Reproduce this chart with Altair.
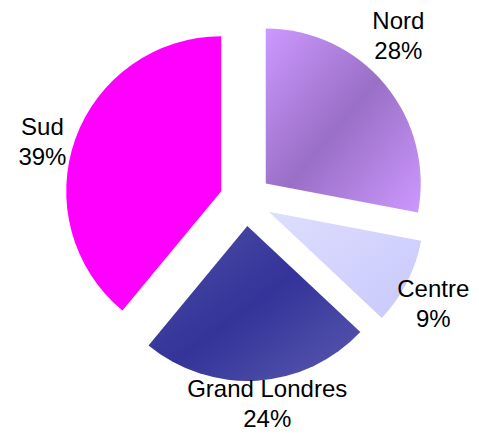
import altair as alt
import pandas as pd

# ---- data ----
regions = ["Nord", "Centre", "Grand Londres", "Sud"]
shares = [28, 9, 24, 39]

df = pd.DataFrame({"region": regions, "share": shares, "order": list(range(len(regions)))})

# ---- layout ----
CX, CY = 237.7, 192    # pie centre (px, inside the view)
RADIUS = 155
EXPLODE = 26
LABEL_R = 215
NUDGE = {"Nord": (-13, -41), "Sud": (-1, 1), "Centre": (-4, -8), "Grand Londres": (8, -25)}

nx_expr = " : ".join([f"datum.region == '{k}' ? {v[0]}" for k, v in NUDGE.items()]) + " : 0"
ny_expr = " : ".join([f"datum.region == '{k}' ? {v[1]}" for k, v in NUDGE.items()]) + " : 0"

base = (
    alt.Chart(df)
    .transform_window(cum="sum(share)", frame=[None, 0], sort=[alt.SortField("order")])
    .transform_joinaggregate(total="sum(share)")
    .transform_calculate(
        t0="2*PI*(datum.cum - datum.share)/datum.total",
        t1="2*PI*datum.cum/datum.total",
    )
    .transform_calculate(mid="(datum.t0 + datum.t1)/2")
    .transform_calculate(
        cx=f"{CX} + {EXPLODE}*sin(datum.mid)",
        cy=f"{CY} - {EXPLODE}*cos(datum.mid)",
        lx=f"{CX} + {LABEL_R}*sin(datum.mid) + ({nx_expr})",
        ly=f"{CY} - {LABEL_R}*cos(datum.mid) + ({ny_expr})",
        label="datum.region + '\\n' + datum.share + '%'",
    )
)

def grad(stops, x1=0, y1=0, x2=1, y2=1):
    return alt.LinearGradient(
        gradient="linear",
        stops=[alt.GradientStop(color=c, offset=o) for o, c in stops],
        x1=x1, y1=y1, x2=x2, y2=y2,
    )

fills = {
    "Nord": grad([(0, "#cc99ff"), (0.5, "#9a6fc6"), (1, "#cc99ff")]),
    "Centre": grad([(0, "#dedeff"), (1, "#c8c8fc")]),
    "Grand Londres": grad([(0, "#5050a8"), (0.5, "#333399"), (1, "#5a5ab0")]),
    "Sud": "#ff00ff",
}

enc = dict(
    theta=alt.Theta("t0:Q", scale=None, stack=None),
    theta2=alt.Theta2("t1:Q"),
    x=alt.X("cx:Q", scale=None),
    y=alt.Y("cy:Q", scale=None),
)

layers = []
for r in regions:
    layers.append(
        base.transform_filter(alt.datum.region == r)
        .mark_arc(radius=RADIUS, fill=fills[r], stroke=None)
        .encode(**enc)
    )

labels = base.mark_text(
    font="Liberation Sans",
    fontSize=24,
    lineBreak="\n",
    lineHeight=30,
    align="center",
    baseline="middle",
    color="black",
).encode(
    x=alt.X("lx:Q", scale=None),
    y=alt.Y("ly:Q", scale=None),
    text="label:N",
)

chart = (
    alt.layer(*layers, labels)
    .properties(width=463, height=424, padding=0, autosize=alt.AutoSizeParams(type="none"))
    .configure_view(stroke=None)
)

chart.save("out.html", embed_options={"renderer": "svg", "actions": False})
